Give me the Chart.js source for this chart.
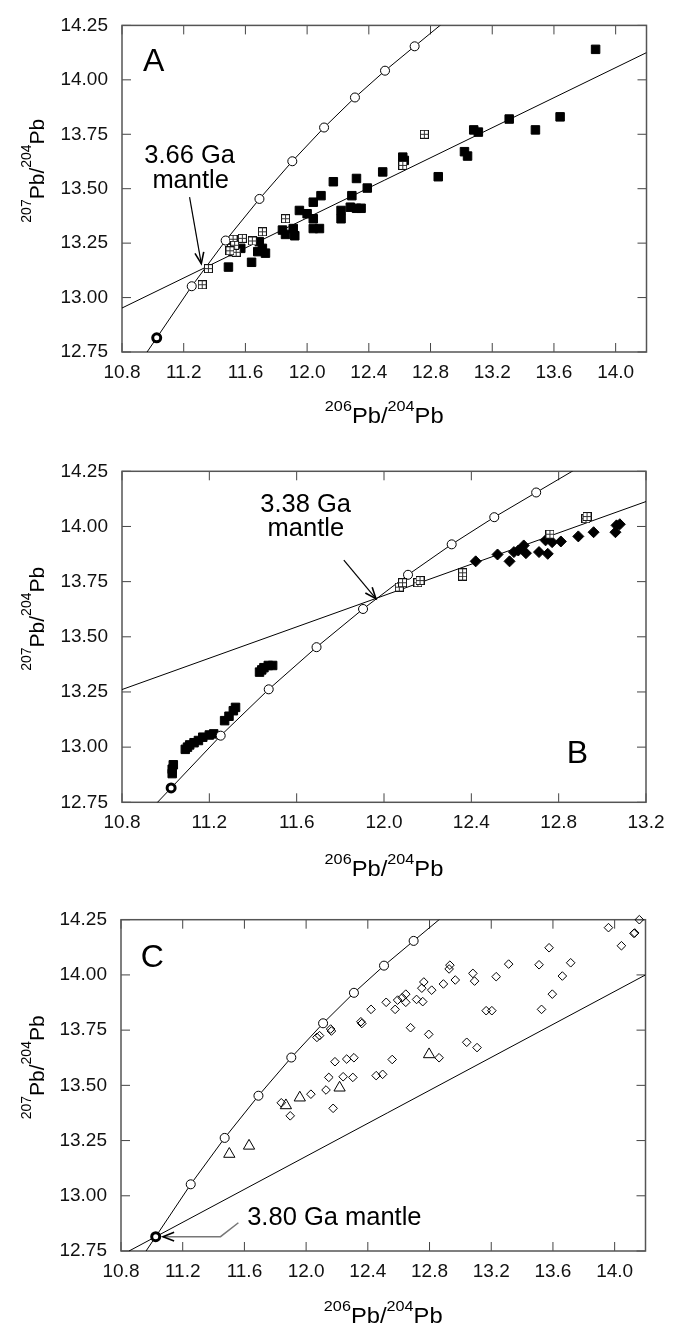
<!DOCTYPE html>
<html><head><meta charset="utf-8">
<script src="https://cdn.jsdelivr.net/npm/chart.js@4.4.1/dist/chart.umd.min.js"></script>
<style>
html,body{margin:0;padding:0;background:#fff;width:677px;height:1324px;overflow:hidden;position:relative;}
canvas{position:absolute;left:0;}
</style></head><body>
<canvas id="cA" width="677" height="440" style="top:0px"></canvas>
<canvas id="cB" width="677" height="445" style="top:440px"></canvas>
<canvas id="cC" width="677" height="439" style="top:885px"></canvas>
<script>
// ---------- tick values / labels ----------
const yTicks = [12.75, 13.00, 13.25, 13.50, 13.75, 14.00, 14.25];
const yTickLabels = ['12.75','13.00','13.25','13.50','13.75','14.00','14.25'];
const xTicksAC = [10.8, 11.2, 11.6, 12.0, 12.4, 12.8, 13.2, 13.6, 14.0];
const xTickLabelsAC = ['10.8','11.2','11.6','12.0','12.4','12.8','13.2','13.6','14.0'];
const xTicksB = [10.8, 11.2, 11.6, 12.0, 12.4, 12.8, 13.2];
const xTickLabelsB = ['10.8','11.2','11.6','12.0','12.4','12.8','13.2'];

// ---------- mantle growth curve (first point = bold circle) ----------
const mantleGrowth = [[11.025,12.815],[11.252,13.052],[11.472,13.262],[11.691,13.453],[11.904,13.626],
  [12.110,13.781],[12.310,13.919],[12.505,14.042],[12.697,14.154]];
const growthLineStart = [10.948, 12.735];
const growthLineEnd = [12.879, 14.26];

// ---------- reference lines ----------
const isochronA = [[10.8,12.952],[14.2,14.125]];
const isochronB = [[10.8,13.261],[13.2,14.113]];
const isochronC = [[10.852,12.75],[14.2,14.0]];

// ---------- panel A ----------
const aFilledSquares = [[13.87,14.14],[13.08,13.77],[13.11,13.76],[13.31,13.82],[13.48,13.77],[13.64,13.83],
  [13.02,13.67],[13.04,13.65],[12.85,13.555],[12.62,13.645],[12.63,13.63],[12.49,13.577],
  [12.39,13.503],[12.32,13.547],[12.29,13.468],[12.17,13.532],[12.09,13.468],[12.04,13.438],
  [12.22,13.362],[12.22,13.40],[12.28,13.415],[12.32,13.41],[12.35,13.41],[11.95,13.40],
  [12.00,13.385],[12.04,13.362],[12.04,13.317],[12.08,13.317],[11.84,13.31],[11.86,13.29],
  [11.91,13.317],[11.92,13.284],[11.69,13.257],[11.71,13.226],[11.73,13.204],[11.68,13.211],
  [11.64,13.162],[11.49,13.14],[11.52,13.211],[11.57,13.226],[11.54,13.22]];
const aCrossSquares = [[12.76,13.75],[12.62,13.607],[11.86,13.362],[11.71,13.302],[11.52,13.268],[11.58,13.272],
  [11.645,13.26],[11.51,13.226],[11.54,13.208],[11.53,13.24],[11.50,13.215],[11.36,13.133],[11.32,13.059]];

// ---------- panel B ----------
const bFilledSquares = [[11.03,12.88],[11.03,12.90],[11.035,12.92],[11.09,12.99],[11.10,13.0],[11.11,13.01],
  [11.13,13.02],[11.15,13.03],[11.17,13.045],[11.20,13.055],[11.22,13.06],[11.27,13.12],[11.29,13.14],
  [11.31,13.165],[11.32,13.18],[11.43,13.34],[11.44,13.35],[11.45,13.36],[11.47,13.37],[11.49,13.37]];
const bCrossSquares = [[12.07,13.725],[12.085,13.745],[12.155,13.745],[12.165,13.755],[12.36,13.775],[12.36,13.79],
  [12.76,13.965],[12.925,14.035],[12.93,14.045]];
const bDiamonds = [[12.42,13.842],[12.52,13.873],[12.575,13.842],[12.595,13.884],[12.615,13.891],[12.64,13.914],
  [12.65,13.879],[12.71,13.884],[12.75,13.876],[12.74,13.937],[12.77,13.929],[12.81,13.932],[12.89,13.955],
  [12.96,13.974],[13.06,13.974],[13.065,14.005],[13.08,14.01]];

// ---------- panel C ----------
const cDiamonds = [[14.16,14.25],[13.96,14.214],[14.125,14.188],[14.13,14.19],[14.044,14.132],[13.575,14.123],
  [13.715,14.055],[13.51,14.046],[13.313,14.049],[13.661,13.995],[13.596,13.913],[13.526,13.844],[13.232,13.992],
  [13.081,14.007],[13.092,13.972],[12.932,14.044],[12.927,14.027],[12.967,13.977],[12.89,13.959],[12.814,13.931],
  [12.763,13.968],[12.75,13.94],[12.756,13.879],[12.716,13.889],[12.646,13.913],[12.623,13.897],[12.646,13.876],
  [12.593,13.886],[12.577,13.844],[12.519,13.876],[12.421,13.844],[12.361,13.78],[12.355,13.788],[12.159,13.755],
  [12.164,13.746],[12.087,13.725],[12.07,13.717],[12.677,13.761],[12.795,13.731],[13.167,13.838],[13.204,13.838],
  [13.041,13.695],[13.108,13.671],[12.862,13.625],[12.558,13.617],[12.31,13.625],[12.263,13.619],[12.187,13.607],
  [12.496,13.55],[12.454,13.544],[12.303,13.536],[12.24,13.539],[12.147,13.536],[12.129,13.479],[12.031,13.46],
  [11.839,13.421],[11.897,13.362],[12.175,13.396]];
const cTriangles = [[11.502,13.189],[11.63,13.226],[11.869,13.409],[11.959,13.444],[12.217,13.489],[12.797,13.64]];

// ---------- helpers ----------
const FONT = '"Liberation Sans", Arial, Helvetica, sans-serif';
const pts = arr => arr.map(([x, y]) => ({x, y}));

function crossSquareImg() {
  const c = document.createElement('canvas'); c.width = 9; c.height = 9;
  const g = c.getContext('2d');
  g.fillStyle = '#fff'; g.fillRect(0, 0, 9, 9);
  g.strokeStyle = '#111'; g.lineWidth = 1;
  g.strokeRect(0.5, 0.5, 8, 8);
  g.strokeStyle = '#333';
  g.beginPath(); g.moveTo(4.5, 0.5); g.lineTo(4.5, 8.5); g.moveTo(0.5, 4.5); g.lineTo(8.5, 4.5); g.stroke();
  return c;
}
const crossImg = crossSquareImg();

function lineDS(arr) {
  return {type: 'scatter', data: pts(arr), showLine: true, borderColor: '#000', borderWidth: 1,
    pointRadius: 0, fill: false, clip: 0, order: 10};
}
function growthDatasets() {
  return [
    lineDS([growthLineStart, ...mantleGrowth, growthLineEnd]),
    {data: pts(mantleGrowth.slice(1)), pointStyle: 'circle', pointRadius: 4.5, pointBorderWidth: 1,
      pointBackgroundColor: '#fff', pointBorderColor: '#000', showLine: false, clip: false, order: 3},
    {data: pts(mantleGrowth.slice(0, 1)), pointStyle: 'circle', pointRadius: 4, pointBorderWidth: 3,
      pointBackgroundColor: '#fff', pointBorderColor: '#000', showLine: false, clip: false, order: 1}
  ];
}
function filledSquares(arr) {
  return {data: pts(arr), pointStyle: 'rect', pointRadius: 6, pointBorderWidth: 1,
    pointBackgroundColor: '#000', pointBorderColor: '#000', showLine: false, clip: false, order: 5};
}
function crossSquares(arr) {
  return {data: pts(arr), pointStyle: crossImg, pointRadius: 5, showLine: false, clip: false, order: 2};
}

function supText(ctx, parts, cx, base, big, small, rise, stretch) {
  const ws = parts.map(([t, s]) => { ctx.font = (s ? small : big) + 'px ' + FONT; return ctx.measureText(t).width; });
  const total = ws.reduce((a, b) => a + b, 0);
  ctx.save();
  ctx.translate(cx, base);
  ctx.scale(stretch, 1);
  let x = -total / 2;
  ctx.textAlign = 'left'; ctx.textBaseline = 'alphabetic'; ctx.fillStyle = '#000';
  parts.forEach(([t, s], i) => {
    ctx.font = (s ? small : big) + 'px ' + FONT;
    ctx.fillText(t, x, s ? -rise : 0);
    x += ws[i];
  });
  ctx.restore();
}
const yTitleParts = [['207', 1], ['Pb', 0], ['/', 0], ['204', 1], ['Pb', 0]];
const xTitleParts = [['206', 1], ['Pb', 0], ['/', 0], ['204', 1], ['Pb', 0]];

function arrowHead(ctx, x0, y0, x1, y1, len, ang) {
  const a = Math.atan2(y1 - y0, x1 - x0);
  ctx.beginPath();
  ctx.moveTo(x1 - len * Math.cos(a - ang), y1 - len * Math.sin(a - ang));
  ctx.lineTo(x1, y1);
  ctx.lineTo(x1 - len * Math.cos(a + ang), y1 - len * Math.sin(a + ang));
  ctx.stroke();
}

function decoPlugin(cfg) {
  return {
    id: 'deco',
    beforeDatasetsDraw(chart) {
      const {ctx, chartArea: a} = chart; const sx = chart.scales.x, sy = chart.scales.y;
      ctx.save();
      ctx.lineWidth = 1; ctx.strokeStyle = '#444';
      ctx.beginPath();
      cfg.xTicks.forEach(v => { const p = sx.getPixelForValue(v);
        ctx.moveTo(p, a.bottom); ctx.lineTo(p, a.bottom - 9); ctx.moveTo(p, a.top); ctx.lineTo(p, a.top + 9); });
      yTicks.forEach(v => { const p = sy.getPixelForValue(v);
        ctx.moveTo(a.left, p); ctx.lineTo(a.left + 9, p); ctx.moveTo(a.right, p); ctx.lineTo(a.right - 9, p); });
      ctx.stroke();
      ctx.lineWidth = 1.5; ctx.strokeStyle = '#555';
      ctx.strokeRect(a.left, a.top, a.right - a.left, a.bottom - a.top);
      ctx.restore();
    },
    afterDatasetsDraw(chart) {
      const {ctx, chartArea: a} = chart; const sx = chart.scales.x, sy = chart.scales.y;
      const P = (x, y) => [sx.getPixelForValue(x), sy.getPixelForValue(y)];
      ctx.save();
      // axis titles
      supText(ctx, xTitleParts, (a.left + a.right) / 2, cfg.xTitleBase, 22, 15, 12, 1.08);
      ctx.save();
      ctx.translate(43.5, (a.top + a.bottom) / 2 - 18);
      ctx.rotate(-Math.PI / 2);
      supText(ctx, yTitleParts, 0, 0, 21, 14, 13, 1);
      ctx.restore();
      // texts
      cfg.texts.forEach(t => {
        const [px, py] = P(t.x, t.y);
        ctx.font = t.size + 'px ' + FONT; ctx.fillStyle = '#000';
        ctx.textAlign = t.align; ctx.textBaseline = 'alphabetic';
        ctx.fillText(t.t, px, py);
      });
      // arrows
      cfg.arrows.forEach(ar => {
        const p = ar.pts.map(([x, y]) => P(x, y));
        ctx.lineWidth = ar.width || 1.2; ctx.strokeStyle = ar.color || '#000';
        ctx.beginPath(); ctx.moveTo(p[0][0], p[0][1]);
        for (let i = 1; i < p.length; i++) ctx.lineTo(p[i][0], p[i][1]);
        ctx.stroke();
        ctx.strokeStyle = '#000'; ctx.lineWidth = 1.6;
        const n = p.length;
        arrowHead(ctx, p[n - 2][0], p[n - 2][1], p[n - 1][0], p[n - 1][1], 12, 0.38);
      });
      ctx.restore();
    }
  };
}

function makeChart(id, cfg) {
  const canvas = document.getElementById(id);
  const H = canvas.height;
  const font = {family: FONT, size: 19};
  return new Chart(canvas, {
    type: 'scatter',
    data: {datasets: cfg.datasets},
    options: {
      responsive: false, animation: false, devicePixelRatio: 1,
      layout: {padding: {top: cfg.area.top, right: 677 - cfg.area.right, left: 0, bottom: 0}},
      plugins: {legend: {display: false}, tooltip: {enabled: false}},
      elements: {point: {hoverRadius: 0}},
      scales: {
        x: {type: 'linear', position: 'bottom', min: cfg.xMin, max: cfg.xMax,
          grid: {display: false, drawTicks: false}, border: {display: false},
          ticks: {font, color: '#111', padding: 9, maxRotation: 0, minRotation: 0, autoSkip: false,
            callback: (v, i) => cfg.xLabels[i]},
          afterBuildTicks: s => { s.ticks = cfg.xTicks.map(v => ({value: v})); },
          afterFit: s => { s.height = H - cfg.area.bottom; }},
        y: {type: 'linear', position: 'left', min: 12.75, max: 14.25,
          grid: {display: false, drawTicks: false}, border: {display: false},
          ticks: {font, color: '#111', padding: 14, autoSkip: false,
            callback: (v, i) => yTickLabels[i]},
          afterBuildTicks: s => { s.ticks = yTicks.map(v => ({value: v})); },
          afterFit: s => { s.width = cfg.area.left; }}
      }
    },
    plugins: [decoPlugin(cfg)]
  });
}

// ---------- Panel A ----------
makeChart('cA', {
  area: {top: 20.7, bottom: 352, left: 122, right: 646.5},
  xMin: 10.8, xMax: 14.2, xTicks: xTicksAC, xLabels: xTickLabelsAC, xTitleBase: 423,
  datasets: [lineDS(isochronA), ...growthDatasets(), filledSquares(aFilledSquares), crossSquares(aCrossSquares)],
  texts: [
    {t: 'A', x: 10.936, y: 14.04, size: 32, align: 'left'},
    {t: '3.66 Ga', x: 11.238, y: 13.619, size: 25.5, align: 'center'},
    {t: 'mantle', x: 11.245, y: 13.501, size: 25.5, align: 'center'}
  ],
  arrows: [{pts: [[11.238, 13.461], [11.314, 13.156]]}]
});

// ---------- Panel B ----------
makeChart('cB', {
  area: {top: 31.3, bottom: 362.3, left: 122, right: 646},
  xMin: 10.8, xMax: 13.2, xTicks: xTicksB, xLabels: xTickLabelsB, xTitleBase: 436,
  datasets: [lineDS(isochronB), ...growthDatasets(), filledSquares(bFilledSquares), crossSquares(bCrossSquares),
    {data: pts(bDiamonds), pointStyle: 'rectRot', pointRadius: 5.5, pointBorderWidth: 1,
      pointBackgroundColor: '#000', pointBorderColor: '#000', showLine: false, clip: false, order: 4}],
  texts: [
    {t: 'B', x: 12.837, y: 12.926, size: 32, align: 'left'},
    {t: '3.38 Ga', x: 11.641, y: 14.066, size: 25.5, align: 'center'},
    {t: 'mantle', x: 11.642, y: 13.958, size: 25.5, align: 'center'}
  ],
  arrows: [{pts: [[11.816, 13.847], [11.963, 13.673]]}]
});

// ---------- Panel C ----------
makeChart('cC', {
  area: {top: 34.7, bottom: 366, left: 121, right: 645.5},
  xMin: 10.8, xMax: 14.2, xTicks: xTicksAC, xLabels: xTickLabelsAC, xTitleBase: 438,
  datasets: [lineDS(isochronC), ...growthDatasets(),
    {data: pts(cDiamonds), pointStyle: 'rectRot', pointRadius: 4.3, pointBorderWidth: 1,
      pointBackgroundColor: 'rgba(0,0,0,0)', pointBorderColor: '#000', showLine: false, clip: false, order: 5},
    {data: pts(cTriangles), pointStyle: 'triangle', pointRadius: 6.5, pointBorderWidth: 1,
      pointBackgroundColor: 'rgba(0,0,0,0)', pointBorderColor: '#000', showLine: false, clip: false, order: 4}],
  texts: [
    {t: 'C', x: 10.928, y: 14.037, size: 32, align: 'left'},
    {t: '3.80 Ga mantle', x: 11.618, y: 12.868, size: 25.5, align: 'left'}
  ],
  arrows: [{pts: [[11.561, 12.878], [11.445, 12.815], [11.072, 12.815]], color: '#777', width: 1.5}]
});
</script>
</body></html>
